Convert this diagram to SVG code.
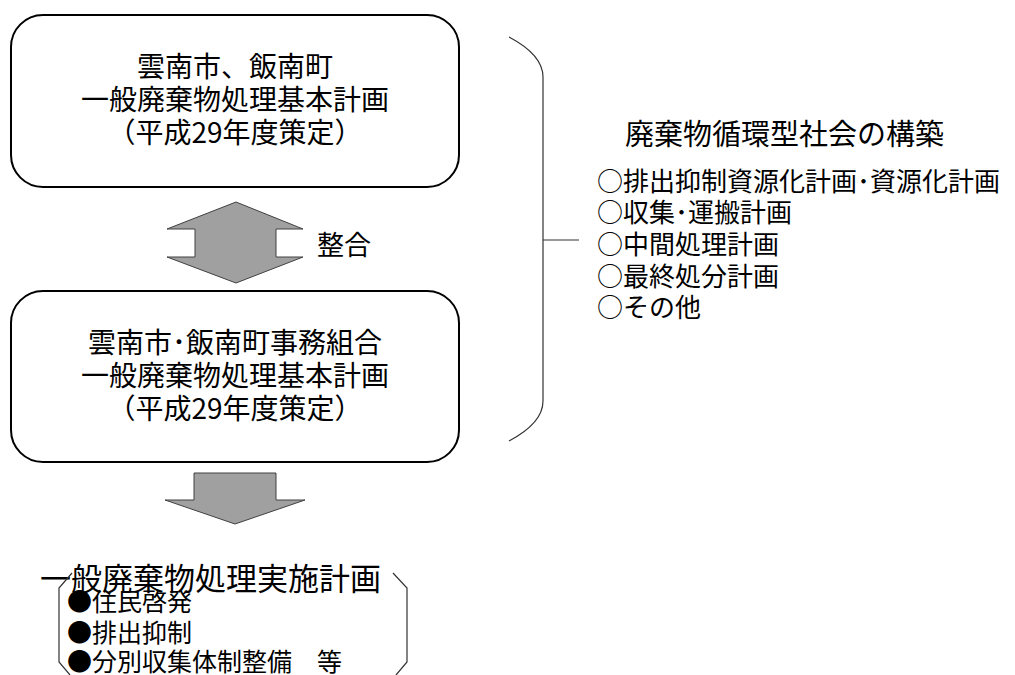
<svg xmlns="http://www.w3.org/2000/svg" width="1015" height="675" viewBox="0 0 1015 675">
<style>
text{font-family:"Noto Sans CJK JP","Noto Sans",sans-serif;fill:#000}
.box{fill:#fff;stroke:#000;stroke-width:2}
.arr{fill:#a0a0a0;stroke:#404040;stroke-width:1}
.br{fill:none;stroke:#333;stroke-width:1.2}
.b{font-size:28px;text-anchor:middle}
.l{font-size:26px}
</style>
<rect width="1015" height="675" fill="#fff"/>
<g id="connectors">
<polygon class="arr" points="236,202 303,229 276,229 276,257 303,257 236,283 167,257 195,257 195,229 167,229"/>
<polygon class="arr" points="194,473 276,473 276,500 305,500 235,524 165,500 194,500"/>
<text x="317" y="255" style="font-size:27px">整合</text>
</g>
<g id="node1">
<rect class="box" x="11" y="15" width="448" height="172" rx="32"/>
<text class="b" x="235" y="77">雲南市、飯南町</text>
<text class="b" x="235" y="110">一般廃棄物処理基本計画</text>
<text class="b" x="235" y="143">（平成29年度策定）</text>
</g>
<g id="node2">
<rect class="box" x="11" y="291" width="448" height="171" rx="32"/>
<text class="b" x="235" y="353">雲南市･飯南町事務組合</text>
<text class="b" x="235" y="386">一般廃棄物処理基本計画</text>
<text class="b" x="235" y="419">（平成29年度策定）</text>
</g>
<g id="node3">
<path class="br" d="M509,37 Q543,55 543,77 L543,401 Q543,423 509,441 M543,240 L579,240"/>
<text x="625" y="145" style="font-size:29px">廃棄物循環型社会の構築</text>
<text class="l" x="597" y="191">○排出抑制資源化計画･資源化計画</text>
<text class="l" x="597" y="222">○収集･運搬計画</text>
<text class="l" x="597" y="254">○中間処理計画</text>
<text class="l" x="597" y="286">○最終処分計画</text>
<text class="l" x="597" y="317">○その他</text>
</g>
<g id="node4">
<text x="40" y="590" style="font-size:31px">一般廃棄物処理実施計画</text>
<path class="br" d="M72,573 L59,588 L59,662 L70,675 M393,573 L407,588 L407,662 L396,675"/>
<text class="l" x="67" y="611" style="font-size:25px">●住民啓発</text>
<text class="l" x="67" y="642" style="font-size:25px">●排出抑制</text>
<text class="l" x="67" y="671" style="font-size:25px">●分別収集体制整備　等</text>
</g>
</svg>
